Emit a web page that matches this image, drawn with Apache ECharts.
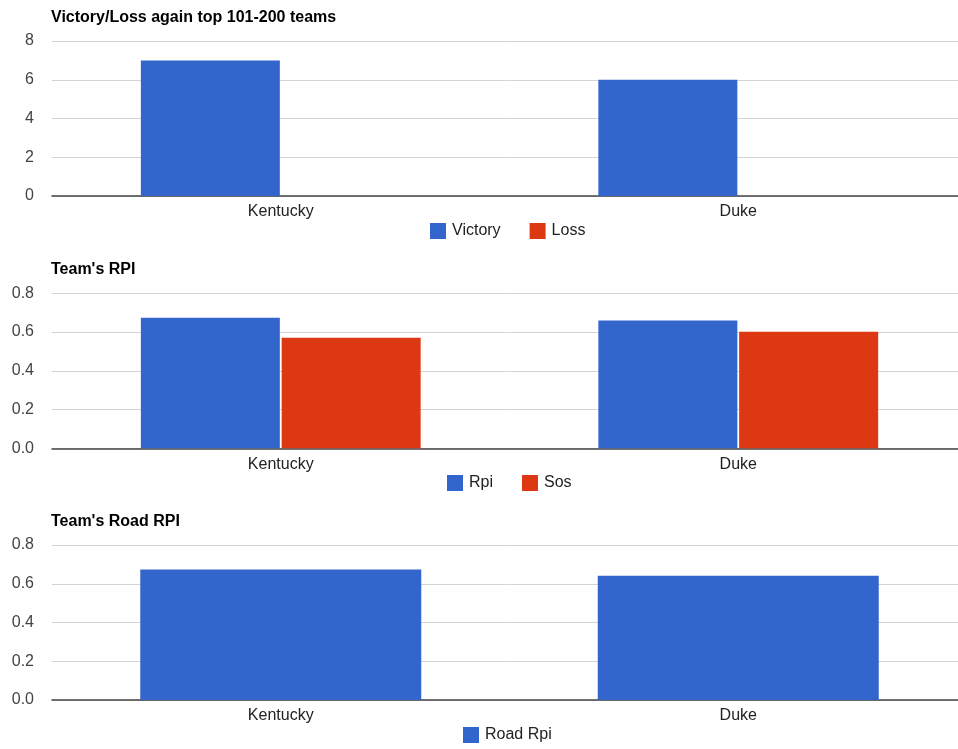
<!DOCTYPE html>
<html>
<head>
<meta charset="utf-8">
<script src="https://cdn.jsdelivr.net/npm/echarts@6/dist/echarts.min.js"></script>
<style>
html,body{margin:0;padding:0;background:#fff;overflow:hidden;}
#c{width:958px;height:749px;}
</style>
</head>
<body>
<div id="c"></div>
<script>
const categories = ['Kentucky', 'Duke'];
const victory = [7, 6];
const loss = [0, 0];
const rpi = [0.674, 0.660];
const sos = [0.571, 0.601];
const roadRpi = [0.674, 0.641];

const titles = ['Victory/Loss again top 101-200 teams', "Team's RPI", "Team's Road RPI"];

const BLUE = '#3366cc', RED = '#dc3912';
const FONT = 'Liberation Sans, Arial, Helvetica, sans-serif';

const gridTops = [41, 293.3, 545];
const gridH = 155;
const titleTops = [10, 262, 514];
const legendTops = [223, 475, 727];
const legendLefts = [430, 447, 463];

const yCfg = [
  {max: 8, interval: 2, fmt: v => String(v)},
  {max: 0.8, interval: 0.2, fmt: v => v.toFixed(1)},
  {max: 0.8, interval: 0.2, fmt: v => v.toFixed(1)}
];

const option = {
  animation: false,
  backgroundColor: '#fff',
  textStyle: {fontFamily: FONT},
  title: titles.map((t, i) => ({
    text: t, left: 51, top: titleTops[i], padding: 0,
    textStyle: {fontFamily: FONT, fontSize: 16, fontWeight: 'bold', color: '#000'}
  })),
  legend: [
    {data: ['Victory', 'Loss']},
    {data: ['Rpi', 'Sos']},
    {data: ['Road Rpi']}
  ].map((l, i) => Object.assign(l, {
    left: legendLefts[i], top: legendTops[i], padding: 0,
    itemWidth: 16, itemHeight: 16, itemGap: 29, icon: 'rect',
    textStyle: {fontFamily: FONT, fontSize: 16, color: '#222', padding: [0, 0, 0, 1]}
  })),
  grid: gridTops.map(t => ({left: 52, width: 915, top: t, height: gridH, containLabel: false, outerBoundsMode: 'none'})),
  xAxis: [0, 1, 2].map(i => ({
    type: 'category', gridIndex: i, data: categories,
    axisTick: {show: false},
    axisLine: {lineStyle: {color: '#444', width: 1.5}},
    axisLabel: {fontFamily: FONT, fontSize: 16, color: '#222', margin: 8}
  })),
  yAxis: yCfg.map((c, i) => ({
    type: 'value', gridIndex: i, min: 0, max: c.max, interval: c.interval,
    axisLine: {show: false}, axisTick: {show: false},
    splitLine: {lineStyle: {color: '#d4d4d4', width: 1}},
    axisLabel: {fontFamily: FONT, fontSize: 16, color: '#444', margin: 18, formatter: c.fmt}
  })),
  series: [
    {name: 'Victory', type: 'bar', xAxisIndex: 0, yAxisIndex: 0, data: victory, color: BLUE, barWidth: 139, barGap: '1.3%'},
    {name: 'Loss', type: 'bar', xAxisIndex: 0, yAxisIndex: 0, data: loss, color: RED, barWidth: 139, barGap: '1.3%'},
    {name: 'Rpi', type: 'bar', xAxisIndex: 1, yAxisIndex: 1, data: rpi, color: BLUE, barWidth: 139, barGap: '1.3%'},
    {name: 'Sos', type: 'bar', xAxisIndex: 1, yAxisIndex: 1, data: sos, color: RED, barWidth: 139, barGap: '1.3%'},
    {name: 'Road Rpi', type: 'bar', xAxisIndex: 2, yAxisIndex: 2, data: roadRpi, color: BLUE, barWidth: 281}
  ]
};

const chart = echarts.init(document.getElementById('c'), null, {renderer: 'canvas'});
chart.setOption(option);
</script>
</body>
</html>
